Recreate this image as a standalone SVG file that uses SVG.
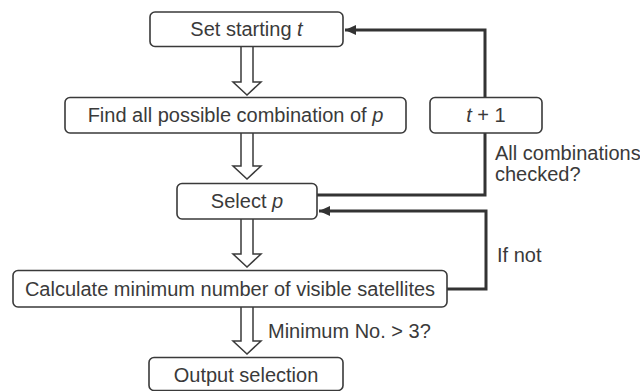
<svg xmlns="http://www.w3.org/2000/svg" width="640" height="391" viewBox="0 0 640 391">
<defs>
<style>
.box{fill:#fff;stroke:#3a3a3a;stroke-width:1.6}
.t{font-family:"Liberation Sans",Arial,sans-serif;font-size:20px;fill:#3a3a3a}
.c{text-anchor:middle}
.ln{fill:none;stroke:#333;stroke-width:3;stroke-linejoin:miter}
.ha{fill:#fff;stroke:#3a3a3a;stroke-width:1.5;stroke-linejoin:miter}
</style>
<marker id="ah" markerUnits="userSpaceOnUse" markerWidth="12" markerHeight="10" refX="11" refY="5" orient="auto">
<path d="M0,0 L11,5 L0,10 Z" fill="#333"/>
</marker>
</defs>
<rect width="640" height="391" fill="#fff"/>
<g id="connectors">
<polyline class="ln" points="317,195 485,195 485,133"/>
<polyline class="ln" points="485,97 485,30 345,30" marker-end="url(#ah)"/>
<polyline class="ln" points="447,289 486,289 486,211 319,211" marker-end="url(#ah)"/>
<path class="ha" d="M241,47 L241,82 L233,82 L247,95 L261,82 L253,82 L253,47"/>
<path class="ha" d="M241,133 L241,166 L233,166 L247,179 L261,166 L253,166 L253,133"/>
<path class="ha" d="M241,219 L241,254 L233,254 L247,267 L261,254 L253,254 L253,219"/>
<path class="ha" d="M241,307 L241,341 L233,341 L247,354 L261,341 L253,341 L253,307"/>
<text class="t" x="495" y="160">All combinations</text>
<text class="t" x="495" y="181">checked?</text>
<text class="t" x="497" y="262">If not</text>
<text class="t" x="268" y="338">Minimum No. &gt; 3?</text>
</g>
<g id="set-t">
<rect class="box" x="150" y="12" width="193" height="34.5" rx="5"/>
<text class="t c" x="246.5" y="35.5">Set starting <tspan font-style="italic">t</tspan></text>
</g>
<g id="find">
<rect class="box" x="65" y="97.5" width="341" height="35.5" rx="5"/>
<text class="t c" x="235.5" y="122">Find all possible combination of <tspan font-style="italic">p</tspan></text>
</g>
<g id="t-plus-1">
<rect class="box" x="430" y="97.5" width="112" height="35.5" rx="5"/>
<text class="t c" x="486" y="122"><tspan font-style="italic">t</tspan> + 1</text>
</g>
<g id="select">
<rect class="box" x="177" y="183.5" width="140" height="35.5" rx="5"/>
<text class="t c" x="247" y="208">Select <tspan font-style="italic">p</tspan></text>
</g>
<g id="calculate">
<rect class="box" x="13" y="270.5" width="434" height="36.5" rx="5"/>
<text class="t c" x="230" y="296">Calculate minimum number of visible satellites</text>
</g>
<g id="output">
<rect class="box" x="149" y="357.5" width="194" height="33" rx="5"/>
<text class="t c" x="246" y="381.5">Output selection</text>
</g>
</svg>
